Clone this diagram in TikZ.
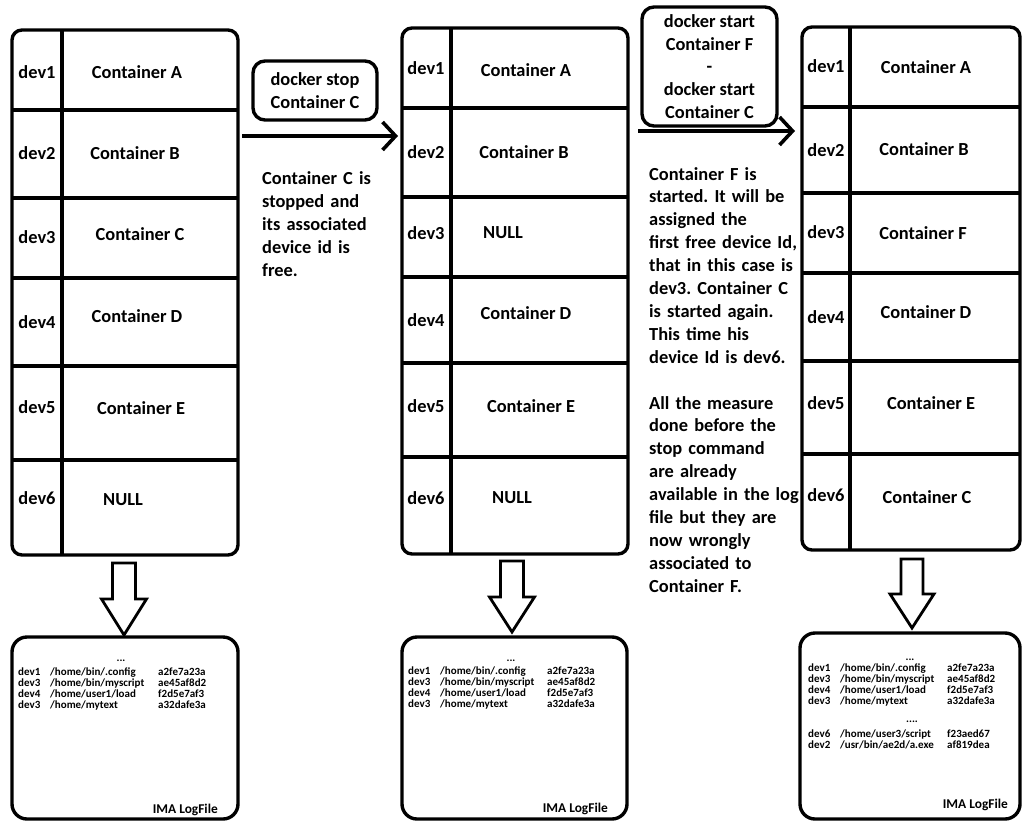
\documentclass[tikz,border=0pt]{standalone}
\usepackage{fontspec}
\setmainfont{Carlito}
\usetikzlibrary{arrows.meta,calc}
\frenchspacing
\newcommand{\baselog}{dev1 & /home/bin/.config & a2fe7a23a\\
dev3 & /home/bin/myscript & ae45af8d2\\
dev4 & /home/user1/load & f2d5e7af3\\
dev3 & /home/mytext & a32dafe3a}
\begin{document}
\begin{tikzpicture}[x=1pt,y=-1pt,
  panel/.style={draw, line width=3.4pt, rounded corners=10pt, inner sep=0pt, outer sep=0pt},
  grid/.style={line width=3.2pt},
  lbl/.style={inner sep=0pt, font=\fontsize{18.4}{22.9}\selectfont\bfseries},
  cmdbox/.style={draw, line width=3.4pt, rounded corners=12pt, align=center, inner sep=0pt,
    font=\fontsize{18.4}{22.7}\selectfont\bfseries},
  note/.style={anchor=base west, inner sep=0pt, align=left, text width=175pt,
    font=\fontsize{18.4}{22.9}\selectfont\bfseries},
  flow/.style={line width=3.6pt, -{Straight Barb[length=13pt,width=28pt]}},
  down/.style={draw, line width=2.8pt, fill=white},
  logbox/.style={draw, line width=3.4pt, rounded corners=15pt, inner sep=0pt, outer sep=0pt},
  logtxt/.style={inner sep=0pt, font=\fontsize{11}{11}\selectfont\bfseries},
  logtitle/.style={anchor=base east, inner sep=0pt, font=\fontsize{13.4}{15}\selectfont\bfseries}
]
\useasboundingbox (0,0) rectangle (1024,821);

% ---------- device tables ----------
\node[panel, minimum width=226pt, minimum height=525pt] (p1) at (125,292.5) {};
\node[panel, minimum width=226pt, minimum height=526pt] (p2) at (515,291) {};
\node[panel, minimum width=218pt, minimum height=523pt] (p3) at (911,288.5) {};

\draw[grid] (p1.north -| 62,0) -- (p1.south -| 62,0);
\foreach \y in {110,198,278,366,460}
  \draw[grid] (p1.west |- 0,\y) -- (p1.east |- 0,\y);
\draw[grid] (p2.north -| 451,0) -- (p2.south -| 451,0);
\foreach \y in {108,197,277,363,457}
  \draw[grid] (p2.west |- 0,\y) -- (p2.east |- 0,\y);
\draw[grid] (p3.north -| 850,0) -- (p3.south -| 850,0);
\foreach \y in {107,193,273,361,454}
  \draw[grid] (p3.west |- 0,\y) -- (p3.east |- 0,\y);

% first table
\node[lbl] (a1) at (37,72) {dev1};   \node[lbl] (a1c) at (137,72) {Container A};
\node[lbl] (a2) at (37,153) {dev2};  \node[lbl] (a2c) at (135,153) {Container B};
\node[lbl] (a3) at (37,237) {dev3};  \node[lbl] (a3c) at (140,234) {Container C};
\node[lbl] (a4) at (37,322) {dev4};  \node[lbl] (a4c) at (137,316) {Container D};
\node[lbl] (a5) at (37,407) {dev5};  \node[lbl] (a5c) at (141,408) {Container E};
\node[lbl] (a6) at (37,498) {dev6};  \node[lbl] (a6c) at (123,500) {NULL};

% second table
\node[lbl] (b1) at (426,68) {dev1};  \node[lbl] (b1c) at (526,70) {Container A};
\node[lbl] (b2) at (426,152) {dev2}; \node[lbl] (b2c) at (524,152) {Container B};
\node[lbl] (b3) at (426,233) {dev3}; \node[lbl] (b3c) at (503,233) {NULL};
\node[lbl] (b4) at (426,320) {dev4}; \node[lbl] (b4c) at (526,313) {Container D};
\node[lbl] (b5) at (426,406) {dev5}; \node[lbl] (b5c) at (531,406) {Container E};
\node[lbl] (b6) at (426,498) {dev6}; \node[lbl] (b6c) at (512,498) {NULL};

% third table
\node[lbl] (c1) at (826,66) {dev1};  \node[lbl] (c1c) at (926,67) {Container A};
\node[lbl] (c2) at (826,150) {dev2}; \node[lbl] (c2c) at (924,149) {Container B};
\node[lbl] (c3) at (826,232) {dev3}; \node[lbl] (c3c) at (923,233) {Container F};
\node[lbl] (c4) at (826,317) {dev4}; \node[lbl] (c4c) at (926,312) {Container D};
\node[lbl] (c5) at (826,403) {dev5}; \node[lbl] (c5c) at (931,403) {Container E};
\node[lbl] (c6) at (826,495) {dev6}; \node[lbl] (c6c) at (927,497) {Container C};

% ---------- commands and transitions ----------
\node[cmdbox, minimum width=124pt, minimum height=59pt] (cmd1) at (315,90.5)
  {docker stop\\Container C};
\node[cmdbox, minimum width=135pt, minimum height=119pt] (cmd2) at (709.5,66.5)
  {docker start\\Container F\\-\\docker start\\Container C};

\draw[flow] ($(p1.east |- 0,136)+(4,0)$) -- ($(p2.west |- 0,136)+(-4,0)$);
\draw[flow] ($(p2.east |- 0,131)+(10,0)$) -- ($(p3.west |- 0,131)+(-7,0)$);

\node[note] (desc1) at (262,185)
  {Container C is\\stopped and\\its associated\\device id is\\free.};
\node[note] (desc2) at (649,180)
  {Container F is\\started. It will be\\assigned the\\first free device Id,\\that in this case is\\dev3. Container C\\is started again.\\This time his\\device Id is dev6.\\[22.9pt]All the measure\\done before the\\stop command\\are already\\available in the log\\file but they are\\now wrongly\\associated to\\Container F.};

% ---------- block arrows down to the log files ----------
\draw[down] (124,563) ++(-11.5,0) -- ++(23,0) -- ++(0,36) -- ++(11,0) -- ++(-22.5,36)
  -- ++(-22.5,-36) -- ++(11,0) -- cycle;
\draw[down] (512,561) ++(-11.5,0) -- ++(23,0) -- ++(0,36) -- ++(11,0) -- ++(-22.5,35)
  -- ++(-22.5,-35) -- ++(11,0) -- cycle;
\draw[down] (912,559) ++(-11,0) -- ++(22,0) -- ++(0,35) -- ++(11,0) -- ++(-22,34)
  -- ++(-22,-34) -- ++(11,0) -- cycle;

% ---------- log files ----------
\node[logbox, minimum width=226pt, minimum height=182pt] (l1) at (125,728) {};
\node[logbox, minimum width=225pt, minimum height=182pt] (l2) at (514.5,728) {};
\node[logbox, minimum width=220pt, minimum height=186pt] (l3) at (910,726) {};

\node[logtxt, anchor=base] (l1dots) at (121,661) {...};
\node[logtxt, anchor=base west] (l1rows) at (18,675)
  {\begin{tabular}[t]{@{}p{32pt}@{}p{108pt}@{}l@{}}\baselog\end{tabular}};
\node[logtitle] (l1title) at (218,813) {IMA LogFile};

\node[logtxt, anchor=base] (l2dots) at (511,661) {...};
\node[logtxt, anchor=base west] (l2rows) at (408,674)
  {\begin{tabular}[t]{@{}p{32pt}@{}p{107pt}@{}l@{}}\baselog\end{tabular}};
\node[logtitle] (l2title) at (608,812) {IMA LogFile};

\node[logtxt, anchor=base] (l3dots) at (910,660) {...};
\node[logtxt, anchor=base west] (l3rows) at (808,671)
  {\begin{tabular}[t]{@{}p{32pt}@{}p{107pt}@{}l@{}}\baselog\end{tabular}};
\node[logtxt, anchor=base] (l3dots2) at (912,722) {....};
\node[logtxt, anchor=base west] (l3more) at (808,737)
  {\begin{tabular}[t]{@{}p{32pt}@{}p{107pt}@{}l@{}}dev6 & /home/user3/script & f23aed67\\
   dev2 & /usr/bin/ae2d/a.exe & af819dea\end{tabular}};
\node[logtitle] (l3title) at (1008,808) {IMA LogFile};
\end{tikzpicture}
\end{document}
